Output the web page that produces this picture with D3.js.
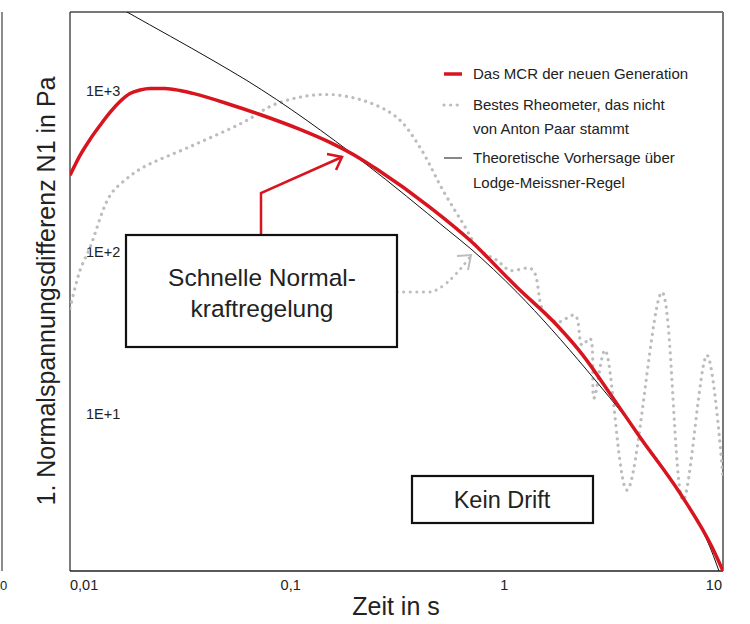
<!DOCTYPE html>
<html>
<head>
<meta charset="utf-8">
<script src="https://cdn.jsdelivr.net/npm/d3@7"></script>
<style>
  html, body { margin: 0; padding: 0; background: #fff; }
  svg { display: block; font-family: "Liberation Sans", Arial, sans-serif; }
</style>
</head>
<body>
<svg id="chart" width="750" height="624"></svg>
<script>
// ---- data (time in s, N1 in Pa) ----
const mcrTime  = [0.01, 0.01112, 0.012356, 0.013732, 0.01527, 0.016973, 0.018865, 0.0210, 0.02331, 0.02732, 0.03201, 0.0367, 0.0543, 0.0746, 0.1139, 0.1564, 0.2148, 0.2573, 0.4508, 0.688, 1.131, 1.727, 2.274, 3.123, 4.157, 6.34, 8.90, 10];
const mcrN1    = [300, 399, 501, 611, 736, 861, 965, 1014, 1036, 1036, 1007, 966, 825, 715, 578, 480, 382, 327, 190, 118.7, 60.7, 35.3, 23.0, 12.5, 7.15, 3.22, 1.49, 1.06];

const otherTime = [0.01, 0.01112, 0.01236, 0.01527, 0.01827, 0.02164, 0.0367, 0.0623, 0.0893, 0.1453, 0.2218, 0.3178, 0.4055, 0.5172, 0.639, 0.765, 0.9157, 1.05, 1.326, 1.489, 1.727, 2.089, 2.25, 2.449, 2.555, 2.870, 3.622, 5.245, 6.55, 8.44, 10];
const otherN1   = [45, 77.4, 107, 225, 287, 336, 460, 638, 837, 951, 874, 685, 447, 242, 151, 103, 89.2, 77.4, 78.5, 43.7, 36.9, 40.7, 26.6, 29.3, 12.5, 24.7, 3.36, 56.5, 2.91, 23.0, 3.99];

const theoryTime = [0.01, 0.01847, 0.0454, 0.065, 0.2266, 0.546, 0.689, 1.131, 2.37, 3.86, 6.34, 8.71, 10];
const theoryN1   = [4890, 3062, 1545, 1161, 356, 137, 106, 56.5, 18.6, 8.25, 3.22, 1.49, 0.9];

const xTickValues = [0.01, 0.1, 1, 10];
const xTickLabels = ["0,01", "0,1", "1", "10"];
const yTickValues = [1000, 100, 10];
const yTickLabels = ["1E+3", "1E+2", "1E+1"];

const legendLabels = [
  ["Das MCR der neuen Generation"],
  ["Bestes Rheometer, das nicht", "von Anton Paar stammt"],
  ["Theoretische Vorhersage über", "Lodge-Meissner-Regel"]
];

const RED = "#d8141f", GRAY = "#bdbdbd", TEXT = "#222";

// ---- layout ----
const svg = d3.select("#chart");
const L = 70, R = 723, T = 12, B = 571;

const x = d3.scaleLog().domain([0.01, 10]).range([L, R]);
const y = d3.scaleLog().domain([1, 1000]).range([575, 91]);

svg.append("defs").append("clipPath").attr("id", "plotclip")
  .append("rect").attr("x", L).attr("y", T).attr("width", R - L).attr("height", B - T);

// neighbour frame at the far left
svg.append("line").attr("x1", 2).attr("x2", 2).attr("y1", T).attr("y2", B)
  .attr("stroke", "#666").attr("stroke-width", 1.5);
svg.append("text").attr("x", 0).attr("y", 590).attr("text-anchor", "start")
  .attr("font-size", 13).attr("fill", TEXT).text("0");

// frame
svg.append("line").attr("x1", L).attr("x2", R).attr("y1", T).attr("y2", T).attr("stroke", "#777").attr("stroke-width", 2);
svg.append("line").attr("x1", R).attr("x2", R).attr("y1", T).attr("y2", B).attr("stroke", "#777").attr("stroke-width", 2);
svg.append("line").attr("x1", L).attr("x2", L).attr("y1", T).attr("y2", B).attr("stroke", "#333").attr("stroke-width", 1.3);
svg.append("line").attr("x1", L).attr("x2", R).attr("y1", B).attr("y2", B).attr("stroke", "#222").attr("stroke-width", 1.3);

// x tick labels
const xAnchors = ["start", "middle", "middle", "end"];
const xNudge = [0, 3, -1, -1];
svg.append("g").selectAll("text").data(xTickValues).join("text")
  .attr("x", (d, i) => x(d) + xNudge[i])
  .attr("y", 590)
  .attr("text-anchor", (d, i) => xAnchors[i])
  .attr("font-size", 14.5).attr("fill", TEXT)
  .text((d, i) => xTickLabels[i]);

// y tick labels (inside plot)
svg.append("g").selectAll("text").data(yTickValues).join("text")
  .attr("x", 86).attr("y", d => y(d) + 5)
  .attr("font-size", 14.5).attr("fill", TEXT)
  .text((d, i) => yTickLabels[i]);

// axis titles
svg.append("text").attr("x", 396).attr("y", 615).attr("text-anchor", "middle")
  .attr("font-size", 25).attr("fill", TEXT).text("Zeit in s");
svg.append("text").attr("transform", "translate(55,291) rotate(-90)").attr("text-anchor", "middle")
  .attr("font-size", 25).attr("fill", TEXT).text("1. Normalspannungsdifferenz N1 in Pa");

// series
const plot = svg.append("g").attr("clip-path", "url(#plotclip)");
const mk = (ts, ns) => ts.map((t, i) => [t, ns[i]]);

plot.append("path").datum(mk(otherTime, otherN1))
  .attr("d", d3.line().x(d => x(d[0])).y(d => y(d[1])).curve(d3.curveCatmullRom.alpha(0.5)))
  .attr("fill", "none").attr("stroke", GRAY).attr("stroke-width", 3.2)
  .attr("stroke-linecap", "round").attr("stroke-dasharray", "0.1 6.5");

plot.append("path").datum(mk(theoryTime, theoryN1))
  .attr("d", d3.line().x(d => x(d[0])).y(d => y(d[1])).curve(d3.curveMonotoneX))
  .attr("fill", "none").attr("stroke", "#111").attr("stroke-width", 1);

plot.append("path").datum(mk(mcrTime, mcrN1))
  .attr("d", d3.line().x(d => x(d[0])).y(d => y(d[1])).curve(d3.curveMonotoneX))
  .attr("fill", "none").attr("stroke", RED).attr("stroke-width", 3.5);

// ---- annotations ----
svg.append("path").attr("d", "M397,292 L430,292 Q445,290 470,257")
  .attr("fill", "none").attr("stroke", GRAY).attr("stroke-width", 3)
  .attr("stroke-linecap", "round").attr("stroke-dasharray", "0.1 6.5");
svg.append("path").attr("d", "M457,256 L471,255 L468,270")
  .attr("fill", "none").attr("stroke", GRAY).attr("stroke-width", 2);

svg.append("path").attr("d", "M261,235 L261,193 L342,157")
  .attr("fill", "none").attr("stroke", RED).attr("stroke-width", 2.5);
svg.append("path").attr("d", "M327,154 L342,157 L336,170")
  .attr("fill", "none").attr("stroke", RED).attr("stroke-width", 2.5);

svg.append("rect").attr("x", 126).attr("y", 235).attr("width", 271).attr("height", 112)
  .attr("fill", "#fff").attr("stroke", "#111").attr("stroke-width", 2.2);
svg.append("text").attr("x", 262).attr("y", 286).attr("text-anchor", "middle")
  .attr("font-size", 24.5).attr("fill", TEXT).text("Schnelle Normal-");
svg.append("text").attr("x", 262).attr("y", 317).attr("text-anchor", "middle")
  .attr("font-size", 24.5).attr("fill", TEXT).text("kraftregelung");

svg.append("rect").attr("x", 412).attr("y", 476).attr("width", 181).attr("height", 47)
  .attr("fill", "#fff").attr("stroke", "#111").attr("stroke-width", 2.2);
svg.append("text").attr("x", 502).attr("y", 508).attr("text-anchor", "middle")
  .attr("font-size", 23.5).attr("fill", TEXT).text("Kein Drift");

// ---- legend ----
const lg = svg.append("g").attr("font-size", 15).attr("fill", TEXT);
const rowY = [[74], [105, 129], [158, 183]];
const sampleStyles = [
  { stroke: RED, w: 3.5, dash: null },
  { stroke: GRAY, w: 3.2, dash: "0.1 6.5" },
  { stroke: "#111", w: 1, dash: null }
];
legendLabels.forEach((lines, i) => {
  const s = sampleStyles[i];
  const ln = lg.append("line").attr("x1", 444).attr("x2", 462)
    .attr("y1", rowY[i][0]).attr("y2", rowY[i][0])
    .attr("stroke", s.stroke).attr("stroke-width", s.w);
  if (s.dash) ln.attr("stroke-dasharray", s.dash).attr("stroke-linecap", "round");
  lines.forEach((t, j) => {
    lg.append("text").attr("x", 473).attr("y", rowY[i][j] + 5).text(t);
  });
});
</script>
</body>
</html>
